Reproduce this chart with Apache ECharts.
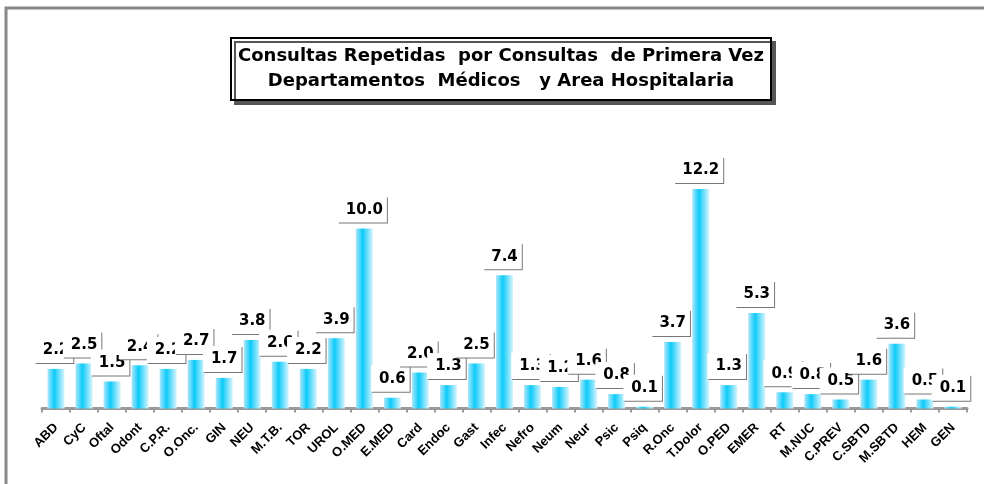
<!DOCTYPE html>
<html>
<head>
<meta charset="utf-8">
<script src="https://cdn.jsdelivr.net/npm/echarts@6/dist/echarts.min.js"></script>
<style>
html,body{margin:0;padding:0;background:#fff;}
#main{width:984px;height:484px;}
</style>
</head>
<body>
<div id="main"></div>
<script>
var titleLines = ['Consultas Repetidas  por Consultas  de Primera Vez', 'Departamentos  Médicos   y Area Hospitalaria'];

var departamentos = ['ABD', 'CyC', 'Oftal', 'Odont', 'C.P.R.', 'O.Onc.', 'GIN', 'NEU', 'M.T.B.', 'TOR', 'UROL',
    'O.MED', 'E.MED', 'Card', 'Endoc', 'Gast', 'Infec', 'Nefro', 'Neum', 'Neur', 'Psic', 'Psiq',
    'R.Onc', 'T.Dolor', 'O.PED', 'EMER', 'RT', 'M.NUC', 'C.PREV', 'C.SBTD', 'M.SBTD', 'HEM', 'GEN'];

var razon = [2.2, 2.5, 1.5, 2.4, 2.2, 2.7, 1.7, 3.8, 2.6, 2.2, 3.9,
    10.0, 0.6, 2.0, 1.3, 2.5, 7.4, 1.3, 1.2, 1.6, 0.8, 0.1,
    3.7, 12.2, 1.3, 5.3, 0.9, 0.8, 0.5, 1.6, 3.6, 0.5, 0.1];

var myChart = echarts.init(document.getElementById('main'));

// degradado de las barras
var barColor = new echarts.graphic.LinearGradient(0, 0, 1, 0, [
    {offset: 0, color: '#aee7fb'},
    {offset: 0.4, color: '#0ccbf9'},
    {offset: 1, color: '#d9f5fe'}
]);

var option = {
    animation: false,
    backgroundColor: '#fff',
    title: {
        text: '{t|' + titleLines[0] + '}\n{t|' + titleLines[1] + '}',
        left: 232,
        top: 38,
        padding: [6, 7, 6, 7],
        backgroundColor: '#fff',
        borderColor: '#000',
        borderWidth: 2,
        shadowColor: '#555',
        shadowOffsetX: 4,
        shadowOffsetY: 4,
        shadowBlur: 0,
        textStyle: {
            rich: {
                t: {
                    width: 524,
                    height: 25,
                    align: 'center',
                    fontFamily: 'DejaVu Sans',
                    fontWeight: 'bold',
                    fontSize: 18,
                    lineHeight: 25,
                    color: '#000'
                }
            }
        }
    },
    graphic: [{
        type: 'rect',
        silent: true,
        shape: {x: 6, y: 8, width: 1000, height: 500},
        style: {fill: 'none', stroke: '#888', lineWidth: 3}
    }],
    grid: {
        left: 42,
        right: 17,
        top: 156.5,
        bottom: 75.5
    },
    xAxis: {
        type: 'category',
        data: departamentos,
        axisLine: {lineStyle: {color: '#999', width: 3}},
        axisTick: {show: true, length: 4, lineStyle: {color: '#999', width: 2}},
        axisLabel: {
            interval: 0,
            rotate: 45,
            margin: 17,
            color: '#000',
            fontFamily: 'Liberation Sans',
            fontWeight: 'bold',
            fontSize: 13
        }
    },
    yAxis: {
        type: 'value',
        min: 0,
        max: 14,
        show: false,
        splitLine: {show: false}
    },
    series: [{
        type: 'bar',
        data: razon,
        barWidth: 17,
        itemStyle: {color: barColor},
        label: {
            show: true,
            position: 'top',
            distance: 6,
            offset: [-2, 0],
            formatter: function (p) { return p.value.toFixed(1); },
            color: '#000',
            fontFamily: 'DejaVu Sans',
            fontWeight: 'bold',
            fontSize: 15,
            backgroundColor: '#fff',
            padding: [6, 4, 5, 8],
            shadowColor: '#777',
            shadowOffsetX: 1,
            shadowOffsetY: 1,
            shadowBlur: 0
        }
    }]
};

myChart.setOption(option);
</script>
</body>
</html>
